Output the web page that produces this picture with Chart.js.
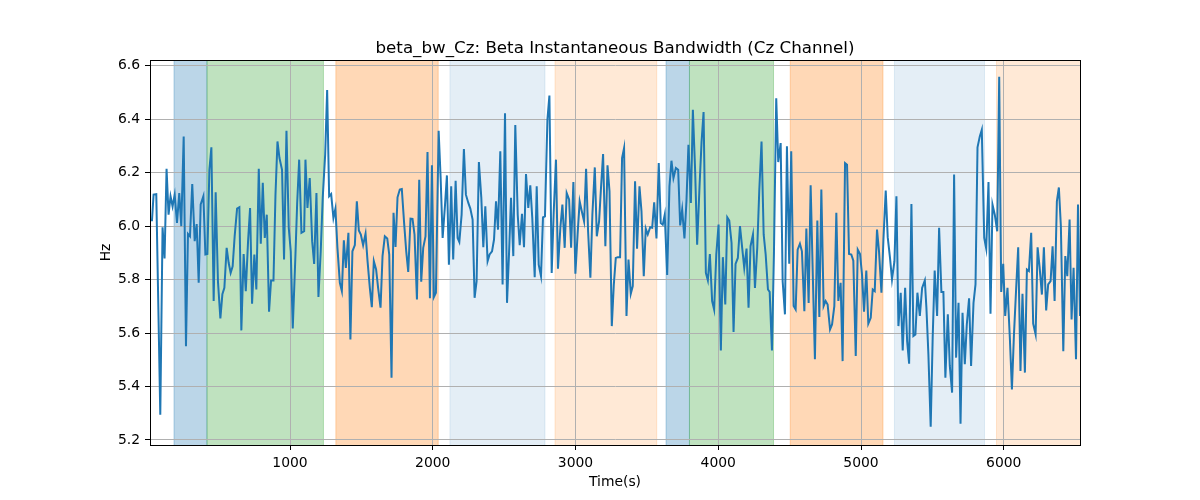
<!DOCTYPE html>
<html>
<head>
<meta charset="utf-8">
<script src="https://cdn.jsdelivr.net/npm/chart.js@4.4.1/dist/chart.umd.min.js"></script>
<style>
html,body{margin:0;padding:0;background:#fff;}
#wrap{width:1200px;height:500px;}
</style>
</head>
<body>
<div id="wrap"><canvas id="chart" width="1200" height="500"></canvas></div>
<script>
// Sample times (s) and bandwidth values (Hz)
const times = [
  19,33,44,63,77,91,107,121,135,149,163,177,192,208,224,238,255,271,285,299,
  315,332,346,360,374,393,407,421,435,449,465,479,495,512,526,540,556,570,584,598,
  612,629,645,659,675,690,706,720,734,750,764,781,795,809,823,837,853,867,884,898,
  912,926,944,958,975,991,1005,1019,1038,1050,1064,1080,1099,
  1108,1122,1138,1155,1169,1185,1199,1215,1229,1246,1260,1274,1288,1304,1318,1332,1349,1363,1377,1391,
  1409,1423,1437,1454,1468,1482,1496,1512,1529,1543,1559,1573,1587,1603,1617,1634,1648,1664,1681,1695,
  1711,1725,1739,1753,1769,1783,1800,1814,1828,1844,1858,1872,1889,1905,1919,1933,1949,1963,1980,1994,
  2008,2022,2041,2055,2069,2085,2099,2113,2129,2143,2160,2174,2186,
  2202,2218,2232,2249,2263,2279,2293,2307,2323,2340,2354,2368,2384,2398,2415,2429,2443,2457,2473,2489,
  2506,2520,2534,2548,2564,2578,2595,2609,2625,2639,2653,2669,2683,2697,2714,2728,2742,2758,2772,2786,
  2803,2817,2833,2847,2863,2877,2894,2908,2924,2938,2955,2969,2985,2999,3015,3029,3043,3060,3074,3088,
  3104,3118,3135,3149,3165,3179,3193,3209,3224,3238,3254,3268,
  3282,3296,3312,3326,3340,3357,3371,3387,3401,3417,3431,3448,3462,3478,3492,3506,3523,3537,3551,3567,
  3583,3597,3611,3625,3642,3658,3672,3686,3703,3719,3733,3747,3763,3777,3791,3808,3822,3838,3852,3869,
  3883,3897,3913,3927,3941,3957,3971,3986,4002,4018,4032,4049,4063,4077,4093,4107,4121,4137,4152,4168,
  4182,4198,4212,4226,4243,4257,4273,4287,4303,4318,4332,4348,4360,
  4376,4390,4406,4420,4437,4451,4467,4481,4497,4511,4528,4542,4556,4572,4586,4603,4617,4633,4647,4663,
  4677,4694,4708,4722,4738,4752,4766,4783,4797,4813,4827,4841,4857,4871,4888,4902,4916,4932,4946,4963,
  4977,4993,5007,5021,5037,5051,5068,5082,5096,5112,5126,5143,5157,5173,5187,5203,5217,5234,5248,5262,
  5278,5292,5309,5323,5337,5353,5367,5381,5395,5412,5428,5447,
  5458,5472,5488,5502,5516,5533,5547,5563,5577,5591,5608,5622,5638,5652,5666,5683,5697,5711,5727,5741,
  5757,5771,5788,5802,5816,5832,5846,5863,5877,5893,5907,5921,5937,5954,5968,5982,5996,6010,6026,6043,
  6057,6071,6087,6101,6117,6131,6148,6162,6176,6192,6206,6223,6237,6251,6267,6281,6297,6311,6328,6342,
  6356,6372,6386,6400,6417,6431,6445,6461,6475,6489,6506,6520,6534
];
const values = [
  6.022,6.022,6.118,6.12,5.71,5.294,5.996,5.879,6.215,6.043,6.112,6.074,6.118,6.012,6.124,6.0,6.336,5.551,5.971,5.962,
  6.158,5.944,6.008,5.788,6.081,6.112,5.894,5.896,6.211,6.295,5.72,6.127,5.794,5.655,5.745,5.769,5.919,5.863,5.825,5.85,
  5.962,6.066,6.071,5.61,5.896,5.757,5.944,6.068,5.71,5.894,5.763,6.215,5.934,6.162,5.956,6.043,5.68,5.797,5.797,6.118,
  6.317,6.255,6.211,5.875,6.357,5.994,5.906,5.617,5.894,6.087,6.249,5.975,5.981,
  6.249,6.068,6.18,5.944,5.859,6.124,5.735,5.906,6.106,6.267,6.51,6.112,6.12,6.031,6.066,5.919,5.788,5.757,5.947,5.844,
  5.975,5.576,5.906,5.929,6.093,5.984,5.969,5.929,5.972,5.869,5.769,5.697,5.869,5.838,5.769,5.695,5.888,5.962,5.954,5.894,
  5.433,6.05,5.922,6.108,6.137,6.139,6.006,5.906,5.829,6.028,6.027,5.969,5.726,6.174,5.792,5.919,5.962,6.278,5.73,6.228,
  5.735,5.751,6.357,6.18,5.956,6.074,6.19,5.856,6.149,5.875,6.17,5.956,5.941,
  6.043,6.289,6.118,6.087,6.066,6.025,5.732,5.794,6.24,6.106,5.921,6.074,5.869,5.894,5.906,5.95,6.093,5.987,6.28,5.782,
  6.423,5.713,5.896,6.106,5.888,6.379,6.043,5.929,6.046,5.921,6.195,6.068,6.153,6.031,5.809,6.149,5.856,5.813,6.033,6.037,
  6.398,6.489,5.825,6.05,6.249,5.841,5.996,6.081,5.919,6.124,6.1,5.919,6.165,5.822,5.975,6.093,6.058,6.018,6.215,5.981,
  5.807,6.043,6.22,5.962,6.018,6.149,6.27,5.925,6.228,6.131,5.626,5.78,
  5.881,5.884,5.884,6.255,6.292,5.664,5.875,5.747,5.776,6.168,5.916,6.149,6.056,5.813,5.991,5.969,5.996,5.994,6.089,5.954,
  6.236,6.012,6.006,6.043,5.817,6.149,6.245,6.18,6.218,6.211,6.003,6.062,5.954,6.093,6.305,6.087,6.436,6.205,5.931,6.153,
  6.317,6.427,5.825,5.797,5.896,5.72,5.688,5.894,6.006,5.535,5.884,5.707,6.033,6.021,5.937,5.604,5.859,5.881,6.0,5.916,
  5.844,5.916,5.695,5.925,5.969,5.769,5.919,6.131,6.317,5.969,5.894,5.763,5.754,
  5.535,5.9,6.479,6.24,6.311,5.794,5.67,6.299,5.859,6.28,5.701,5.688,5.912,5.934,5.906,5.682,5.991,5.713,6.153,5.8,
  5.502,6.021,5.66,6.137,5.701,5.72,5.707,5.614,5.632,5.701,6.05,5.72,5.788,5.495,6.236,6.23,5.896,5.894,5.871,5.514,
  5.912,5.896,5.819,5.68,5.834,5.635,5.657,5.763,5.757,5.987,5.906,5.751,5.95,6.133,5.959,5.881,5.8,5.869,6.112,5.626,
  5.751,5.535,5.769,5.57,5.485,6.083,5.589,5.595,5.751,5.664,5.769,5.797,
  5.695,5.52,5.249,5.583,5.834,5.664,5.994,5.754,5.754,5.433,5.67,5.477,5.377,6.193,5.508,5.713,5.261,5.676,5.483,5.632,
  5.73,5.477,5.713,5.782,6.295,6.336,6.361,5.956,5.916,6.165,5.672,6.081,6.043,5.981,6.559,5.754,5.859,5.664,5.769,5.576,
  5.389,5.59,5.77,5.921,5.458,5.747,5.452,5.838,5.832,5.975,5.635,5.595,5.921,5.847,5.744,5.921,5.685,5.782,5.794,5.925,
  5.72,6.093,6.145,6.0,5.532,5.888,5.813,6.025,5.651,5.844,5.502,6.081,5.664
];

// Tick labels
const xTicks = [1000,2000,3000,4000,5000,6000];
const yTicks = [5.2,5.4,5.6,5.8,6.0,6.2,6.4,6.6];
const yMin = 5.181, yMax = 6.622;

// Shaded segments (time ranges and kind)
const bandStarts = [187, 418, 1321, 2120, 2856, 3634, 3798, 4504, 5234, 5949];
const bandEnds   = [418, 1234, 2038, 2786, 3569, 3798, 4387, 5154, 5865, 6600];
const bandKinds  = ['blue','green','orange','paleBlue','paleOrange','blue','green','orange','paleBlue','paleOrange'];

const titleText = 'beta_bw_Cz: Beta Instantaneous Bandwidth (Cz Channel)';

const bandColors = {
  blue: 'rgba(31,119,180,0.3)',
  green: 'rgba(44,160,44,0.3)',
  orange: 'rgba(255,127,14,0.3)',
  paleBlue: 'rgba(31,119,180,0.12)',
  paleOrange: 'rgba(255,127,14,0.17)'
};

if(times.length !== values.length) console.warn('length mismatch', times.length, values.length);

const bandsPlugin = {
  id: 'bands',
  beforeDraw(chart){
    const {ctx, chartArea: a, scales: {x}} = chart;
    ctx.save();
    ctx.beginPath();
    ctx.rect(a.left, a.top, a.right - a.left, a.bottom - a.top);
    ctx.clip();
    bandStarts.forEach((s,i)=>{
      const x0 = x.getPixelForValue(s);
      const x1 = x.getPixelForValue(bandEnds[i]);
      ctx.fillStyle = bandColors[bandKinds[i]];
      ctx.fillRect(x0, a.top, x1 - x0, a.bottom - a.top);
      ctx.strokeStyle = bandColors[bandKinds[i]];
      ctx.lineWidth = 1;
      ctx.beginPath();
      ctx.moveTo(x0, a.top); ctx.lineTo(x0, a.bottom);
      ctx.moveTo(x1, a.top); ctx.lineTo(x1, a.bottom);
      ctx.stroke();
    });
    ctx.restore();
  },
  afterDatasetsDraw(chart){
    const {ctx, chartArea: a} = chart;
    ctx.save();
    ctx.strokeStyle = '#000';
    ctx.lineWidth = 1;
    ctx.strokeRect(Math.round(a.left)+0.5, Math.round(a.top)+0.5, Math.round(a.right-a.left), Math.round(a.bottom-a.top));
    // title centred over the plot area, like matplotlib
    ctx.fillStyle = '#000';
    ctx.font = '16.7px "DejaVu Sans"';
    ctx.textAlign = 'center';
    ctx.textBaseline = 'alphabetic';
    ctx.fillText(titleText, (a.left + a.right) / 2, a.top - 7.5);
    ctx.restore();
  }
};

Chart.defaults.font.family = 'DejaVu Sans';
Chart.defaults.font.size = 13.9;
Chart.defaults.color = '#000';

new Chart(document.getElementById('chart'), {
  type: 'line',
  data: {
    datasets: [{
      data: times.map((t,i)=>({x:t, y:values[i]})),
      borderColor: '#1f77b4',
      borderWidth: 2,
      pointRadius: 0,
      tension: 0,
      fill: false
    }]
  },
  options: {
    responsive: false,
    devicePixelRatio: 1,
    animation: false,
    layout: { padding: { left: 90, right: 120, top: 60, bottom: 0 } },
    plugins: {
      legend: { display: false },
      tooltip: { enabled: false },
      title: { display: false }
    },
    scales: {
      x: {
        type: 'linear',
        min: times[0],
        max: times[times.length-1],
        afterBuildTicks: s => { s.ticks = xTicks.map(v=>({value:v})); },
        afterFit: s => { s.height = 55; },
        ticks: { padding: 5, maxRotation: 0, callback: v => String(v) },
        grid: { color: '#b0b0b0', lineWidth: 1, tickLength: 5, tickColor: '#000', drawTicks: true },
        border: { display: true, color: '#000', width: 1 },
        title: { display: true, text: 'Time(s)', padding: { top: 0, bottom: 9 } }
      },
      y: {
        type: 'linear',
        min: yMin,
        max: yMax,
        afterBuildTicks: s => { s.ticks = yTicks.map(v=>({value:v})); },
        afterFit: s => { s.width = 60; },
        ticks: { padding: 5, callback: v => v.toFixed(1) },
        grid: { color: '#b0b0b0', lineWidth: 1, tickLength: 5, tickColor: '#000', drawTicks: true },
        border: { display: true, color: '#000', width: 1 },
        title: { display: true, text: 'Hz', padding: { top: 8, bottom: 0 } }
      }
    }
  },
  plugins: [bandsPlugin]
});
</script>
</body>
</html>
